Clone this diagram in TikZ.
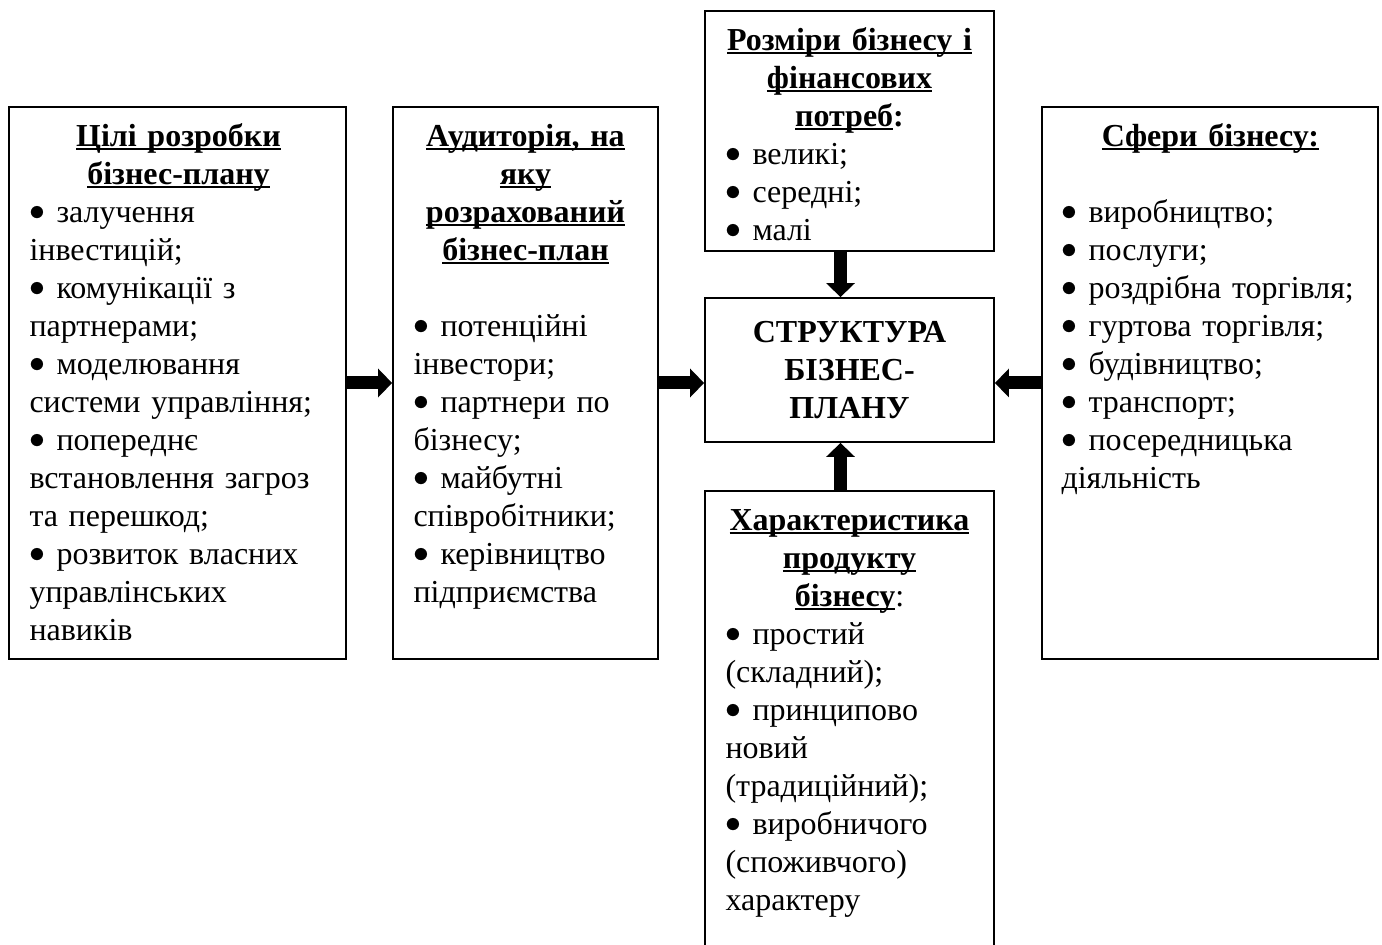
\documentclass[tikz,border=0pt]{standalone}
\usepackage{fontspec}
\setmainfont{Liberation Serif}
\usepackage{graphicx}
\usepackage{tikz}
\usetikzlibrary{arrows.meta}
\usetikzlibrary{positioning}

\newcommand{\hdline}[1]{\leavevmode\setbox0\hbox{\textbf{#1}}\rlap{\rule[-1.8pt]{\wd0}{1pt}}\box0}
\newcommand{\bl}{\leavevmode\makebox[13.5pt][l]{\raisebox{0.9pt}{\scalebox{0.92}{$\bullet$}}}}

\tikzset{
  box/.style={draw, line width=0.9pt, inner sep=0pt},
  txt/.style={anchor=base west, inner sep=0pt, xshift=10.5pt, yshift=-20pt},
  bigarrow/.style={line width=6.5pt, -{Triangle[length=7pt,width=14pt]}},
  every node/.style={font=\fontsize{16}{19}\selectfont}
}

\begin{document}
\begin{tikzpicture}[x=0.5pt,y=-0.5pt]
  \useasboundingbox (0,0) rectangle (1382,945);
  % boxes
  \node[box, minimum width=168.5pt, minimum height=276pt] (goals) at (177.5,383) {};
  \node[box, minimum width=132.5pt, minimum height=276pt] (audience) at (525.5,383) {};
  \node[box, minimum width=144.5pt, minimum height=120pt] (sizes) at (849.5,131) {};
  \node[box, minimum width=144.5pt, minimum height=72pt, align=center] (struct) at (849.5,370)
    {\textbf{СТРУКТУРА}\\ \textbf{БІЗНЕС-}\\ \textbf{ПЛАНУ}};
  \node[box, minimum width=144.5pt, minimum height=240pt] (product) at (849.5,731) {};
  \node[box, minimum width=168pt, minimum height=276pt] (spheres) at (1210,383) {};

  % texts
  \node[txt, text width=149pt] (goalstxt) at (goals.north west)
    {{\centering\hdline{Цілі розробки}\\ \hdline{бізнес-плану}\par}\raggedright
     \bl залучення\\ інвестицій;\\ \bl комунікації з\\ партнерами;\\ \bl моделювання\\
     системи управління;\\ \bl попереднє\\ встановлення загроз\\ та перешкод;\\
     \bl розвиток власних\\ управлінських\\ навиків};
  \node[txt, text width=112pt] (audiencetxt) at (audience.north west)
    {{\centering\hdline{Аудиторія, на}\\ \hdline{яку}\\ \hdline{розрахований}\\ \hdline{бізнес-план}\par}
     \vskip19pt\raggedright
     \bl потенційні\\ інвестори;\\ \bl партнери по\\ бізнесу;\\ \bl майбутні\\ співробітники;\\
     \bl керівництво\\ підприємства};
  \node[txt, text width=124pt] (sizestxt) at (sizes.north west)
    {{\centering\hdline{Розміри бізнесу і}\\ \hdline{фінансових}\\ \hdline{потреб}\textbf{:}\par}\raggedright
     \bl великі;\\ \bl середні;\\ \bl малі};
  \node[txt, text width=124pt] (producttxt) at (product.north west)
    {{\centering\hdline{Характеристика}\\ \hdline{продукту}\\ \hdline{бізнесу}:\par}\raggedright
     \bl простий\\ (складний);\\ \bl принципово\\ новий\\ (традиційний);\\ \bl виробничого\\
     (споживчого)\\ характеру};
  \node[txt, text width=149pt, xshift=-0.5pt] (spherestxt) at (spheres.north west)
    {{\centering\hdline{Сфери бізнесу:}\par}\vskip19pt\raggedright
     \bl виробництво;\\ \bl послуги;\\ \bl роздрібна торгівля;\\ \bl гуртова торгівля;\\
     \bl будівництво;\\ \bl транспорт;\\ \bl посередницька\\ діяльність};

  % arrows
  \draw[bigarrow] (goals) -- (audience);
  \draw[bigarrow] (audience.east) -- (audience.east -| struct.west);
  \draw[bigarrow] (spheres.west) -- (spheres.west -| struct.east);
  \draw[bigarrow] ([xshift=-4.5pt]sizes.south) -- ([xshift=-4.5pt]struct.north);
  \draw[bigarrow] ([xshift=-4.5pt]product.north) -- ([xshift=-4.5pt]struct.south);
\end{tikzpicture}
\end{document}
